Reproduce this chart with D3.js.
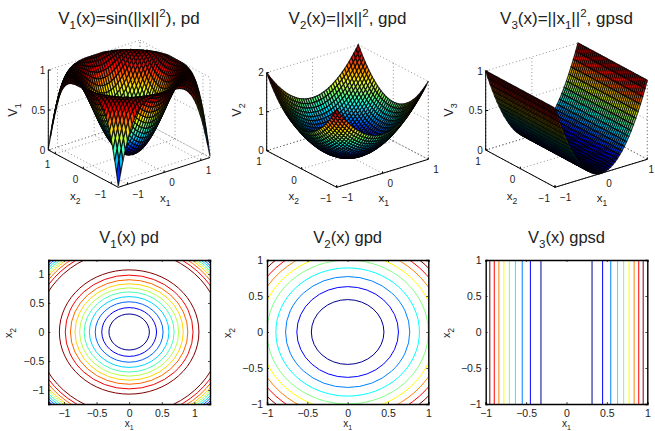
<!DOCTYPE html>
<meta charset="utf-8">
<script src="https://d3js.org/d3.v7.min.js"></script>
<style>
html, body { margin: 0; padding: 0; background: #fff; overflow: hidden; }
svg { display: block; }
text { font-family: "Liberation Sans", Helvetica, Arial, sans-serif; fill: #222; }
.tick text { font-size: 10.5px; fill: #222; }
.t3 { font-size: 10px; }
</style>
<body>
<div id="my_dataviz"></div>
<script>

// surface heights on one octant of the mesh, row = |x1| step, col = |x2| step (mesh is symmetric)
var v1Rows = [
 [0],
 [.004,.008],
 [.016,.020,.031],
 [.035,.039,.051,.070],
 [.062,.066,.078,.097,.125],
 [.098,.101,.113,.132,.159,.194],
 [.140,.144,.156,.175,.202,.236,.278],
 [.190,.194,.206,.225,.251,.285,.326,.374],
 [.247,.251,.262,.281,.307,.341,.381,.427,.479],
 [.311,.315,.326,.344,.370,.402,.441,.486,.537,.591],
 [.381,.384,.395,.413,.438,.469,.507,.550,.598,.650,.704],
 [.455,.459,.469,.486,.510,.540,.576,.616,.661,.710,.760,.811],
 [.533,.537,.546,.563,.585,.613,.647,.684,.726,.770,.815,.860,.902],
 [.613,.616,.626,.641,.661,.687,.718,.752,.790,.829,.868,.906,.940,.969],
 [.693,.696,.704,.718,.737,.760,.787,.817,.850,.883,.915,.945,.971,.989,.999],
 [.770,.773,.780,.792,.809,.829,.852,.877,.904,.930,.955,.976,.992,1,.997,.983],
 [.841,.843,.850,.860,.873,.890,.909,.929,.949,.968,.984,.995,1,.996,.981,.953,.909],
 [.904,.906,.911,.918,.929,.941,.955,.969,.982,.992,.999,1,.993,.977,.948,.906,.848,.773],
 [.954,.955,.958,.964,.971,.979,.987,.994,.998,1,.996,.986,.967,.938,.896,.840,.767,.680,.573],
 [.987,.988,.989,.992,.995,.998,1,1,.996,.988,.974,.952,.920,.878,.823,.753,.667,.566,.449,.315],
 [1,1,1,1,.999,.996,.991,.983,.971,.953,.928,.893,.850,.795,.727,.644,.546,.435,.308,.168,.017]
];
var v2Rows = [
 [0],
 [.003,.005],
 [.010,.013,.020],
 [.023,.025,.033,.045],
 [.040,.043,.050,.063,.080],
 [.063,.065,.073,.085,.103,.125],
 [.090,.093,.100,.113,.130,.153,.180],
 [.123,.125,.133,.145,.163,.185,.213,.245],
 [.160,.163,.170,.183,.200,.223,.250,.283,.320],
 [.203,.205,.213,.225,.243,.265,.293,.325,.363,.405],
 [.250,.253,.260,.273,.290,.313,.340,.373,.410,.453,.500],
 [.303,.305,.313,.325,.343,.365,.393,.425,.463,.505,.553,.605],
 [.360,.363,.370,.383,.400,.423,.450,.483,.520,.563,.610,.663,.720],
 [.423,.425,.433,.445,.463,.485,.513,.545,.583,.625,.673,.725,.783,.845],
 [.490,.493,.500,.513,.530,.553,.580,.613,.650,.693,.740,.793,.850,.913,.980],
 [.563,.565,.573,.585,.603,.625,.653,.685,.723,.765,.813,.865,.923,.985,1.053,1.125],
 [.640,.643,.650,.663,.680,.703,.730,.763,.800,.843,.890,.943,1.000,1.063,1.130,1.203,1.280],
 [.723,.725,.733,.745,.763,.785,.813,.845,.883,.925,.973,1.025,1.083,1.145,1.213,1.285,1.363,1.445],
 [.810,.813,.820,.833,.850,.873,.900,.933,.970,1.013,1.060,1.113,1.170,1.233,1.300,1.373,1.450,1.533,1.620],
 [.903,.905,.913,.925,.943,.965,.993,1.025,1.063,1.105,1.153,1.205,1.263,1.325,1.393,1.465,1.543,1.625,1.713,1.805],
 [1.000,1.003,1.010,1.023,1.040,1.063,1.090,1.123,1.160,1.203,1.250,1.303,1.360,1.423,1.490,1.563,1.640,1.723,1.810,1.903,2.000]
];
// V3 only changes along x1
var v3Row = [0,.003,.010,.023,.040,.063,.090,.123,.160,.203,.250,.303,.360,.423,.490,.563,.640,.723,.810,.903,1];

// contour radii
var v1Inner = [.31,.42,.52,.61,.69,.76,.83,.90,.98,1.07];
var v1Outer = [1.75,1.72,1.69,1.66,1.63,1.60,1.57,1.53,1.48,1.42];
var v2Radii = [.45,.63,.77,.89,1.0,1.09,1.18,1.26,1.34];
var v3Lines = [.316,.447,.548,.632,.707,.775,.837,.894,.949];

var ticks1 = [-1, 0, 1];
var zTicks1 = [0, .5, 1];
var zTicks2 = [0, 1, 2];
var ticks2 = [-1, -.5, 0, .5, 1];
var jetColors = ["#00008f", "#0000ff", "#00ffff", "#ffff00", "#ff0000", "#800000"];

var jet = d3.scaleLinear()
  .domain([0, .125, .375, .625, .875, 1])
  .range(jetColors)
  .clamp(true);

var svg = d3.select("#my_dataviz")
  .append("svg")
    .attr("width", 655)
    .attr("height", 431);

function pick(rows, a, b) { return a >= b ? rows[a][b] : rows[b][a]; }
var v1 = function(a, b) { return pick(v1Rows, a, b); };
var v2 = function(a, b) { return pick(v2Rows, a, b); };
var v3 = function(a, b) { return v3Row[a]; };

// text with sub / superscripts, parts = [text, "sub"|"sup"|"", dy]
function rich(g, parts, size, smallSize) {
  parts.forEach(function(p) {
    var t = g.append("tspan").text(p[0]);
    if (p[1] == "sub") t.attr("dy", size*.32).style("font-size", smallSize + "px");
    else if (p[1] == "sup") t.attr("dy", -size*.42).style("font-size", smallSize + "px");
    else t.attr("dy", (p[2] || 0) * size).style("font-size", size + "px");
  });
}

function surface(o) {
  var g = svg.append("g");
  var x1X = d3.scaleLinear().domain([-o.lim, o.lim]).range([0, o.R[0]-o.F[0]]);
  var x1Y = d3.scaleLinear().domain([-o.lim, o.lim]).range([0, o.R[1]-o.F[1]]);
  var x2X = d3.scaleLinear().domain([-o.lim, o.lim]).range([0, o.L[0]-o.F[0]]);
  var x2Y = d3.scaleLinear().domain([-o.lim, o.lim]).range([0, o.L[1]-o.F[1]]);
  var zY = d3.scaleLinear().domain([0, o.zMax]).range([0, -o.h]);
  var p = function(a, b, c) {
    return [o.F[0] + x1X(a) + x2X(b), o.F[1] + x1Y(a) + x2Y(b) + zY(c)];
  };
  var line = d3.line();
  var seg = function(a, b, cls) {
    g.append("path").attr("d", line([a, b])).attr("fill", "none")
      .attr("stroke", cls ? "#000" : "#666")
      .attr("stroke-width", cls ? 1 : .7)
      .attr("stroke-dasharray", cls ? null : "1,2.5");
  };
  var m = o.lim, t = o.zMax;

  // back walls and floor grid
  o.zTicks.forEach(function(z) {
    seg(p(-m, m, z), p(m, m, z));
    seg(p(m, m, z), p(m, -m, z));
  });
  ticks1.concat([m, -m]).forEach(function(v) {
    seg(p(v, -m, 0), p(v, m, 0));
    seg(p(-m, v, 0), p(m, v, 0));
    seg(p(v, m, 0), p(v, m, t));
    seg(p(m, v, 0), p(m, v, t));
  });

  // mesh, back to front
  var k = d3.scaleLinear().domain([0, 40]).range([-m, m]);
  var idx = function(i) { return Math.abs(i - 20); };
  for (var i = 39; i >= 0; i--) {
    for (var j = 39; j >= 0; j--) {
      var zs = [o.f(idx(i), idx(j)), o.f(idx(i+1), idx(j)), o.f(idx(i+1), idx(j+1)), o.f(idx(i), idx(j+1))];
      g.append("path")
        .attr("d", line([p(k(i), k(j), zs[0]), p(k(i+1), k(j), zs[1]), p(k(i+1), k(j+1), zs[2]), p(k(i), k(j+1), zs[3])]) + "Z")
        .attr("fill", jet(d3.mean(zs) / t))
        .attr("stroke", "#000")
        .attr("stroke-opacity", .8)
        .attr("stroke-width", 1.2);
    }
  }

  // solid axes
  seg(p(-m, -m, 0), p(m, -m, 0), 1);
  seg(p(-m, -m, 0), p(-m, m, 0), 1);
  seg(p(-m, m, 0), p(-m, m, t), 1);

  o.zTicks.forEach(function(z) {
    var q = p(-m, m, z);
    seg(q, [q[0]+2.5, q[1]], 1);
    g.append("text").attr("class", "t3").attr("x", q[0]-3).attr("y", q[1]+3.5).attr("text-anchor", "end").text(d3.format("~g")(z));
  });
  ticks1.forEach(function(v) {
    var a = p(v, -m, 0), b = p(-m, v, 0);
    seg(a, [a[0], a[1]-2], 1);
    seg(b, [b[0], b[1]-2], 1);
    g.append("text").attr("class", "t3").attr("x", Math.min(a[0]+5, 648.5)).attr("y", a[1]+13.5).text(d3.format("~g")(v));
    g.append("text").attr("class", "t3").attr("x", b[0]-5).attr("y", b[1]+14.5).attr("text-anchor", "end").text(d3.format("~g")(v));
  });

  // titles and labels
  rich(svg.append("text").attr("x", o.cx).attr("y", 24).attr("text-anchor", "middle"), o.title, 17, 11.5);
  rich(svg.append("text").attr("transform", "translate(" + o.zx + ",110)rotate(-90)").attr("text-anchor", "middle"), o.zLabel, 12.5, 9);
  rich(svg.append("text").attr("x", o.F[0]-43).attr("y", 200).attr("text-anchor", "middle"), [["x"], ["2", "sub"]], 11.5, 8.5);
  rich(svg.append("text").attr("x", o.F[0]+47).attr("y", 202).attr("text-anchor", "middle"), [["x"], ["1", "sub"]], 11.5, 8.5);
}

function contourPanel(o) {
  var g = svg.append("g");
  var x = d3.scaleLinear().domain([-o.lim, o.lim]).range([o.x0, o.x1]);
  var y = d3.scaleLinear().domain([-o.lim, o.lim]).range([404, 260]);
  var id = "c" + Math.round(o.x0);
  g.append("clipPath").attr("id", id).append("rect")
    .attr("x", o.x0).attr("y", 260).attr("width", o.x1-o.x0).attr("height", 144);
  var inner = g.append("g").attr("clip-path", "url(#" + id + ")");
  var c = d3.scaleLinear().domain([0, o.n - 1]).range([0, 1]);

  if (o.rings) {
    o.rings.forEach(function(set) {
      set.forEach(function(r, i) {
        inner.append("ellipse")
          .attr("cx", x(0)).attr("cy", y(0))
          .attr("rx", x(r)-x(0)).attr("ry", y(0)-y(r))
          .attr("fill", "none")
          .attr("stroke", jet(c(i)))
          .attr("stroke-width", 1);
      });
    });
  }
  if (o.lines) {
    o.lines.forEach(function(r, i) {
      [-r, r].forEach(function(v) {
        inner.append("line")
          .attr("x1", x(v)).attr("x2", x(v)).attr("y1", 260).attr("y2", 404)
          .attr("stroke", jet(c(i)))
          .attr("stroke-width", 1);
      });
    });
  }

  var fmt = d3.format("~g");
  g.append("g").attr("transform", "translate(0,404)")
    .call(d3.axisBottom(x).tickValues(ticks2).tickSize(-2).tickPadding(6).tickFormat(fmt));
  g.append("g").attr("transform", "translate(0,260)")
    .call(d3.axisTop(x).tickValues(ticks2).tickSize(-2).tickFormat(""));
  g.append("g").attr("transform", "translate(" + o.x0 + ",0)")
    .call(d3.axisLeft(y).tickValues(ticks2).tickSize(-2).tickPadding(4).tickFormat(fmt));
  g.append("g").attr("transform", "translate(" + o.x1 + ",0)")
    .call(d3.axisRight(y).tickValues(ticks2).tickSize(-2).tickFormat(""));
  g.selectAll(".domain").attr("stroke", "#000").attr("stroke-width", 1.4);
  g.selectAll(".tick line").attr("stroke", "#000").attr("stroke-width", .7);
  g.selectAll(".tick text").style("font-family", '"Liberation Sans", Helvetica, Arial, sans-serif').style("font-size", "10.5px");

  rich(svg.append("text").attr("x", (o.x0+o.x1)/2).attr("y", 243).attr("text-anchor", "middle"), o.title, 16.5, 11.5);
  rich(svg.append("text").attr("x", (o.x0+o.x1)/2).attr("y", 427).attr("text-anchor", "middle"), [["x"], ["1", "sub"]], 10, 7);
  rich(svg.append("text").attr("transform", "translate(" + o.ly + ",333)rotate(-90)").attr("text-anchor", "middle"), [["x"], ["2", "sub"]], 11, 8.5);
}

surface({ F: [118.3, 187.3], R: [210, 157.5], L: [48.3, 150], h: 80, lim: 1.25, zMax: 1, f: v1, zTicks: zTicks1, cx: 129, zx: 17,
  title: [["V"], ["1", "sub"], ["(x)=sin(||x||", "", -.32], ["2", "sup"], ["), pd", "", .42]],
  zLabel: [["V"], ["1", "sub"]] });
surface({ F: [336.7, 187.3], R: [428.3, 159.3], L: [266.7, 150.7], h: 78, lim: 1, zMax: 2, f: v2, zTicks: zTicks2, cx: 347.5, zx: 241,
  title: [["V"], ["2", "sub"], ["(x)=||x||", "", -.32], ["2", "sup"], [", gpd", "", .42]],
  zLabel: [["V"], ["2", "sub"]] });
surface({ F: [555, 187.3], R: [647.3, 159.3], L: [485.7, 150], h: 79, lim: 1, zMax: 1, f: v3, zTicks: zTicks1, cx: 566.5, zx: 453,
  title: [["V"], ["3", "sub"], ["(x)=||x", "", -.32], ["1", "sub"], ["||", "", -.32], ["2", "sup"], [", gpsd", "", .42]],
  zLabel: [["V"], ["3", "sub"]] });

contourPanel({ x0: 48.3, x1: 210, lim: 1.24, n: 10, rings: [v1Inner, v1Outer], ly: 12,
  title: [["V"], ["1", "sub"], ["(x) pd", "", -.32]] });
contourPanel({ x0: 267, x1: 428.3, lim: 1, n: 9, rings: [v2Radii], ly: 231,
  title: [["V"], ["2", "sub"], ["(x) gpd", "", -.32]] });
contourPanel({ x0: 485.7, x1: 647.3, lim: 1, n: 9, lines: v3Lines, ly: 450,
  title: [["V"], ["3", "sub"], ["(x) gpsd", "", -.32]] });

</script>
</body>
